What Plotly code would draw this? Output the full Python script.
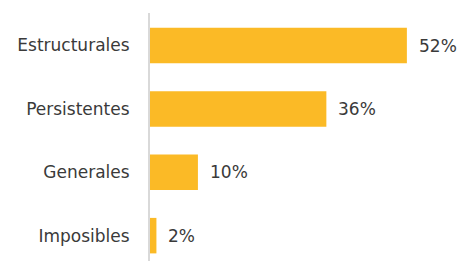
import plotly.graph_objects as go

categories = ["Estructurales", "Persistentes", "Generales", "Imposibles"]
values = [52.0, 35.7, 9.7, 1.3]
labels = ["52%", "36%", "10%", "2%"]

bar_color = "#FBBA26"
text_color = "#3A3A3A"
font_family = "DejaVu Sans"
fsize = 17

fig = go.Figure()
fig.add_trace(go.Bar(
    x=values, y=categories, orientation="h",
    marker=dict(color=bar_color, line=dict(width=0)),
    hoverinfo="skip",
))

for c, v, t in zip(categories, values, labels):
    fig.add_annotation(x=v, y=c, text=t, showarrow=False, xanchor="left",
                       xshift=10, font=dict(family=font_family, size=fsize, color=text_color))

fig.update_layout(
    width=459, height=261,
    margin=dict(l=150, r=0, t=13, b=0, autoexpand=False),
    paper_bgcolor="white", plot_bgcolor="white",
    bargap=0.44,
    showlegend=False,
    font=dict(family=font_family, size=fsize, color=text_color),
)
fig.update_xaxes(range=[0, 62.55], visible=False, showgrid=False, zeroline=False)
fig.update_yaxes(
    type="category", categoryorder="array", categoryarray=categories,
    range=[3.40, -0.513],
    showline=True, linecolor="#D9D9D9", linewidth=2,
    showgrid=False, zeroline=False, automargin=False,
    ticks="outside", ticklen=15, tickcolor="rgba(0,0,0,0)",
    tickfont=dict(family=font_family, size=fsize, color=text_color),
)

fig.write_html("out.html", config={"displayModeBar": False},
               post_script="document.body.style.margin='0';document.body.style.padding='0';")
